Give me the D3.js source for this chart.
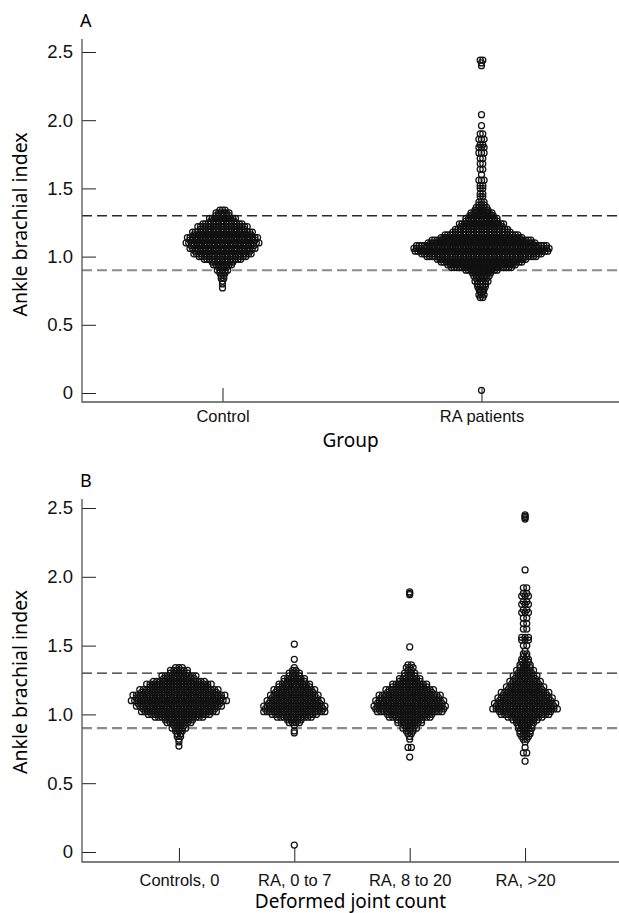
<!DOCTYPE html>
<html>
<head>
<meta charset="utf-8">
<script src="https://cdn.jsdelivr.net/npm/d3@7"></script>
<style>
  body { margin: 0; background: #fff; }
  svg { display: block; font-family: "Noto Sans", sans-serif; }
</style>
</head>
<body>
<svg></svg>
<script>

// ankle brachial index as [abi, number of dots in that row]
const controls = [
  [1.34, 3], [1.32, 6], [1.30, 6], [1.28, 11], [1.26, 10], [1.24, 16], [1.22, 20],
  [1.20, 18], [1.18, 24], [1.16, 23], [1.14, 28], [1.12, 26], [1.10, 29], [1.08, 25],
  [1.06, 26], [1.04, 22], [1.02, 23], [1.00, 19], [0.98, 15], [0.96, 9], [0.94, 8],
  [0.92, 4], [0.90, 5], [0.88, 3], [0.86, 2], [0.84, 2], [0.82, 1], [0.80, 1], [0.77, 1]
]

const raPatients = [
  [2.44, 2], [2.42, 1], [2.40, 1], [2.04, 1], [1.96, 1], [1.90, 2], [1.86, 3], [1.82, 2],
  [1.80, 3], [1.76, 3], [1.72, 2], [1.68, 2], [1.64, 2], [1.60, 1], [1.56, 3], [1.52, 2],
  [1.50, 2], [1.46, 2], [1.44, 2], [1.40, 3], [1.38, 3],
  [1.36, 5], [1.34, 6], [1.32, 9], [1.30, 10], [1.28, 13], [1.26, 13], [1.24, 18],
  [1.22, 17], [1.20, 21], [1.18, 23], [1.16, 29], [1.14, 32], [1.12, 39], [1.10, 42],
  [1.08, 51], [1.06, 53], [1.04, 52], [1.02, 47], [1.00, 43], [0.98, 35], [0.96, 32],
  [0.94, 27], [0.92, 24], [0.90, 13], [0.88, 8], [0.86, 7], [0.84, 5], [0.82, 6],
  [0.80, 4], [0.78, 4], [0.76, 3], [0.74, 2], [0.72, 3], [0.70, 2], [0.02, 1]
]

const ra0to7 = [
  [1.51, 1], [1.40, 1], [1.34, 1], [1.32, 2], [1.30, 4], [1.28, 4], [1.26, 7], [1.24, 7],
  [1.22, 10], [1.20, 10], [1.18, 13], [1.16, 12], [1.14, 15], [1.12, 14], [1.10, 17],
  [1.08, 16], [1.06, 19], [1.04, 18], [1.02, 19], [1.00, 14], [0.98, 11], [0.96, 5],
  [0.94, 4], [0.92, 1], [0.88, 1], [0.865, 1], [0.05, 1]
]

const ra8to20 = [
  [1.89, 1], [1.88, 1], [1.87, 1], [1.49, 1], [1.36, 2], [1.34, 3], [1.32, 2], [1.30, 4],
  [1.28, 4], [1.26, 7], [1.24, 7], [1.22, 11], [1.20, 11], [1.18, 15], [1.16, 14],
  [1.14, 19], [1.12, 18], [1.10, 21], [1.08, 20], [1.06, 22], [1.04, 21], [1.02, 20],
  [1.00, 14], [0.98, 13], [0.96, 8], [0.94, 8], [0.92, 4], [0.90, 5], [0.88, 3],
  [0.86, 2], [0.84, 1], [0.82, 1], [0.76, 2], [0.69, 1]
]

const raOver20 = [
  [2.45, 1], [2.44, 1], [2.43, 1], [2.42, 1], [2.05, 1], [1.92, 2], [1.88, 2], [1.86, 3],
  [1.82, 2], [1.80, 3], [1.76, 2], [1.74, 3], [1.70, 2], [1.66, 2], [1.62, 2], [1.56, 3],
  [1.54, 3], [1.50, 2], [1.46, 1], [1.44, 2], [1.42, 2], [1.40, 3], [1.38, 3], [1.36, 4],
  [1.34, 4], [1.32, 6], [1.30, 5], [1.28, 8], [1.26, 7], [1.24, 10], [1.22, 9], [1.20, 12],
  [1.18, 11], [1.16, 15], [1.14, 14], [1.12, 17], [1.10, 16], [1.08, 19], [1.06, 18],
  [1.04, 20], [1.02, 16], [1.00, 15], [0.98, 11], [0.96, 8], [0.94, 6], [0.92, 5],
  [0.90, 5], [0.88, 4], [0.86, 4], [0.84, 3], [0.82, 2], [0.80, 1], [0.76, 1], [0.72, 2],
  [0.66, 1]
]

const groupsA = ["Control", "RA patients"]
const groupsB = ["Controls, 0", "RA, 0 to 7", "RA, 8 to 20", "RA, >20"]
const yTicks = [0, 0.5, 1.0, 1.5, 2.0, 2.5]
const cutoffs = [1.3, 0.9]

const width = 619,
      height = 913,
      axisX = 82

const svg = d3.select("svg")
  .attr("width", width)
  .attr("height", height)

const panels = [
  { label: "A", title: "Group", groups: groupsA, series: [controls, raPatients],
    top: 39, y0: 393, y25: 52, axisY: 402, pad: 0.5425, step: 2.6,
    labelPad: 8, labelY: 27, titleY: 447 },
  { label: "B", title: "Deformed joint count", groups: groupsB,
    series: [controls, ra0to7, ra8to20, raOver20],
    top: 499, y0: 852, y25: 508, axisY: 862, pad: 0.84, step: 3.4,
    labelPad: 12, labelY: 487, titleY: 908 }
]

panels.forEach(p => {

  const g = svg.append("g")

  const y = d3.scaleLinear()
    .domain([0, 2.5])
    .range([p.y0, p.y25])

  const x = d3.scalePoint()
    .domain(p.groups)
    .range([axisX, 622])
    .padding(p.pad)

  // reference lines
  g.selectAll("line.cut")
    .data(cutoffs)
    .join("line")
      .attr("class", "cut")
      .attr("x1", axisX)
      .attr("x2", width)
      .attr("y1", d => y(d))
      .attr("y2", d => y(d))
      .attr("stroke", d => d > 1 ? "#2a2a2a" : "#8a8a8a")
      .attr("stroke-width", d => d > 1 ? 1.4 : 2.2)
      .attr("stroke-dasharray", "10,5")

  // axes
  const yAxis = d3.axisLeft(y)
    .tickValues(yTicks)
    .tickFormat(d => d === 0 ? "0" : d3.format(".1f")(d))
    .tickSize(-14)
    .tickPadding(9)

  g.append("g")
    .attr("transform", `translate(${axisX},0)`)
    .call(yAxis)
    .call(a => a.select(".domain").remove())
    .call(a => a.selectAll("text").attr("font-size", 18.5).attr("fill", "#111").attr("font-family", null))
    .call(a => a.selectAll(".tick line").attr("stroke", "#222"))

  const xAxis = d3.axisBottom(x)
    .tickSize(-14)
    .tickPadding(p.labelPad)

  g.append("g")
    .attr("transform", `translate(0,${p.axisY})`)
    .call(xAxis)
    .call(a => a.select(".domain").remove())
    .call(a => a.selectAll("text").attr("font-size", 16.5).attr("fill", "#111").attr("font-family", null))
    .call(a => a.selectAll(".tick line").attr("stroke", "#222"))

  g.append("path")
    .attr("d", `M${axisX},${p.top}V${p.axisY}H${width}`)
    .attr("fill", "none")
    .attr("stroke", "#555")
    .attr("stroke-width", 1.3)

  // dot clouds: each row of dots centred on its group
  const dots = []
  p.series.forEach((rows, i) => {
    rows.forEach(([v, n]) => {
      for (let k = 0; k < n; k++) {
        dots.push({ cx: x(p.groups[i]) + (k - (n - 1) / 2) * p.step, v: v })
      }
    })
  })

  g.append("g")
    .selectAll("circle")
    .data(dots)
    .join("circle")
      .attr("cx", d => d.cx)
      .attr("cy", d => y(d.v))
      .attr("r", 3)
      .attr("fill", "none")
      .attr("stroke", "#111")
      .attr("stroke-width", 1.25)

  // labels
  g.append("text")
    .attr("x", 80)
    .attr("y", p.labelY)
    .attr("font-size", 18)
    .text(p.label)

  g.append("text")
    .attr("x", (axisX + width) / 2)
    .attr("y", p.titleY)
    .attr("text-anchor", "middle")
    .attr("font-size", 19)
    .text(p.title)

  g.append("text")
    .attr("transform", `translate(27,${(p.y0 + p.y25) / 2 + 2}) rotate(-90)`)
    .attr("text-anchor", "middle")
    .attr("font-size", 19.5)
    .text("Ankle brachial index")
})

</script>
</body>
</html>
